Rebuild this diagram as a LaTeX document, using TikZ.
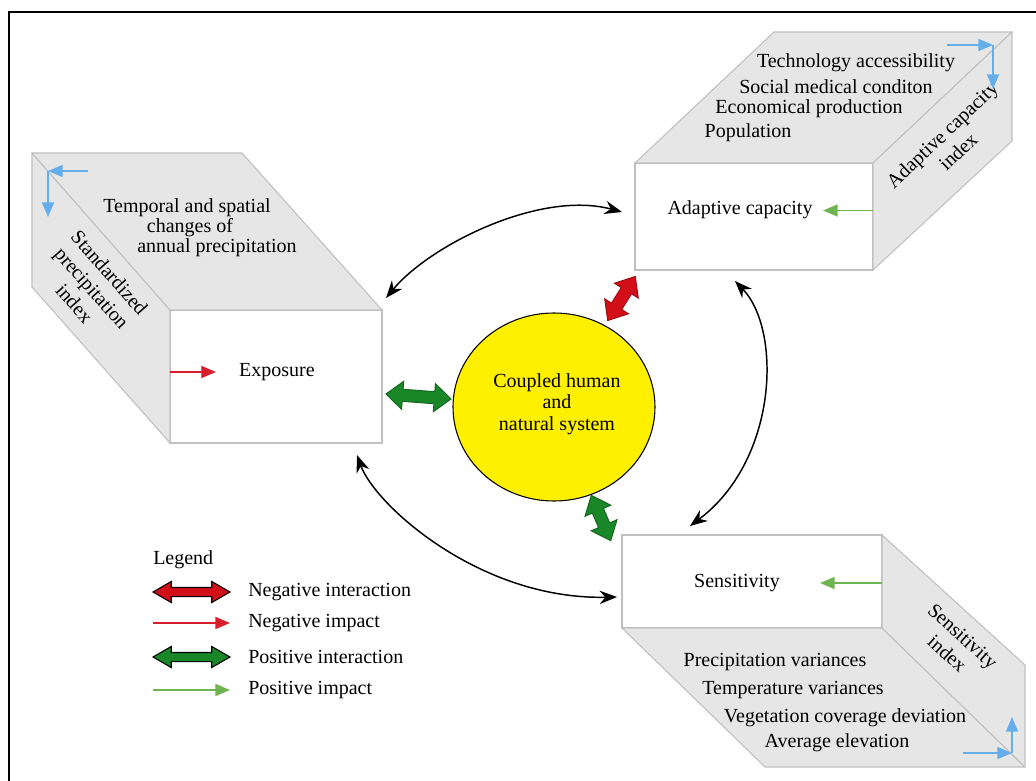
\documentclass[tikz,border=0pt]{standalone}
\usepackage{fontspec}
\setmainfont{Liberation Serif}
\usetikzlibrary{arrows.meta,shapes.arrows,shapes.geometric,calc}
\definecolor{facegray}{RGB}{230,230,230}
\definecolor{edgegray}{RGB}{192,192,192}
\definecolor{skyblue}{RGB}{100,175,235}
\definecolor{impgreen}{RGB}{110,180,80}
\definecolor{impred}{RGB}{215,30,45}
\definecolor{fatgreen}{RGB}{25,135,40}
\definecolor{fatred}{RGB}{210,15,25}
\definecolor{sysyellow}{RGB}{255,240,0}
\begin{document}
\begin{tikzpicture}[x=0.75pt,y=-0.75pt,
  font=\fontsize{15pt}{16pt}\selectfont,
  face/.style={fill=facegray, draw=edgegray, line width=0.8pt, line join=round},
  front/.style={draw=edgegray, fill=white, line width=0.8pt, inner sep=0pt, outer sep=0pt},
  lbl/.style={inner sep=0pt},
  rlbl/.style={inner sep=0pt, align=center, font=\fontsize{15pt}{17.5pt}\selectfont},
  link/.style={line width=1.1pt, {Stealth[length=13pt,width=10pt]}-{Stealth[length=13pt,width=10pt]}},
  idxarrow/.style={draw=skyblue, line width=1.3pt, -{Triangle[length=11pt,width=9pt]}},
  posimp/.style={draw=impgreen, line width=1.3pt, -{Triangle[length=11pt,width=9pt]}},
  negimp/.style={draw=impred, line width=1.3pt, -{Triangle[length=11pt,width=9pt]}},
  fatarr/.style={double arrow, inner xsep=0pt, inner ysep=4.2pt, outer sep=0pt, line width=0.7pt,
    double arrow tip angle=80, double arrow head extend=6pt, minimum width=0pt, line join=miter},
  legarr/.style={double arrow, inner xsep=0pt, inner ysep=3pt, outer sep=0pt, line width=0.8pt, draw=black,
    double arrow tip angle=60, minimum height=57.75pt, minimum width=0pt,
    double arrow head extend=4.5pt, line join=miter},
]
\useasboundingbox (0,0) rectangle (1036,781);
\fill[white] (0,0) rectangle (1036,781);
\draw[line width=1.6pt] (9,781) -- (9,12) -- (1036,12);

% ---------- Exposure box ----------
\node[front, minimum width=159pt, minimum height=99.75pt] (expo) at (276,376.5) {};
\draw[face] (expo.north west) -- ++(-138,-157) -- ++(0,134) -- (expo.south west) -- cycle;
\draw[face] (expo.north west) -- ++(-138,-157) -- ++(210,0) -- (expo.north east) -- cycle;
\node[lbl] (exl) at (277,372) {Exposure};
\node[lbl] (tq1) at (187,208) {Temporal and spatial};
\node[lbl] (tq2) at (190,228) {changes of};
\node[lbl] (tq3) at (217,248) {annual precipitation};
\node[rlbl, rotate=-48.7] (spi) at (92,288) {Standardized\\precipitation\\index};
\coordinate (bc1) at (48,171);
\draw[idxarrow] ($(bc1)+(40,0)$) -- (bc1);
\draw[idxarrow] (bc1) -- ++(0,46);
\draw[negimp] ($(expo.west)+(0,-4.5)$) -- ++(46,0);

% ---------- Adaptive capacity box ----------
\node[front, minimum width=178.5pt, minimum height=80.25pt] (adapt) at (754,216.5) {};
\draw[face] (adapt.north west) -- ++(139,-131) -- ++(238,0) -- (adapt.north east) -- cycle;
\draw[face] (adapt.north east) -- ++(139,-131) -- ++(0,109) -- (adapt.south east) -- cycle;
\node[lbl] (acl) at (740,210) {Adaptive capacity};
\node[lbl] (ta1) at (856,63) {Technology accessibility};
\node[lbl] (ta2) at (836,87) {Social medical conditon};
\node[lbl] (ta3) at (809,109) {Economical production};
\node[lbl] (ta4) at (748,133) {Population};
\node[rlbl, rotate=43.5] (aci) at (950,143) {Adaptive capacity\\index};
\coordinate (bc2) at (993,45);
\draw[idxarrow] ($(bc2)+(-46,0)$) -- (bc2);
\draw[idxarrow] (bc2) -- ++(0,44);
\draw[posimp] ($(adapt.east)+(0,-6)$) -- ++(-50,0);

% ---------- Sensitivity box ----------
\node[front, minimum width=195pt, minimum height=69.75pt] (sens) at (752,581.5) {};
\draw[face] (sens.south west) -- ++(143,139) -- ++(260,0) -- (sens.south east) -- cycle;
\draw[face] (sens.north east) -- ++(143,130) -- ++(0,102) -- (sens.south east) -- cycle;
\node[lbl] (sel) at (737,583) {Sensitivity};
\node[lbl] (ts1) at (775,662) {Precipitation variances};
\node[lbl] (ts2) at (793,690) {Temperature variances};
\node[lbl] (ts3) at (845,718) {Vegetation coverage deviation};
\node[lbl] (ts4) at (837,743) {Average elevation};
\node[rlbl, rotate=-42] (sei) at (955,645) {Sensitivity\\index};
\coordinate (bc3) at (1012,753);
\draw[idxarrow] ($(bc3)+(-49,0)$) -- (bc3);
\draw[idxarrow] (bc3) -- ++(0,-36);
\draw[posimp] ($(sens.east)+(0,1.5)$) -- ++(-62,0);

% ---------- Central system ----------
\node[ellipse, draw=black, fill=sysyellow, line width=0.8pt, inner sep=0pt,
      minimum width=151.5pt, minimum height=141pt] (chns) at (554,407) {};
\node[lbl, align=center] (chnsl) at (557,404) {Coupled human\\and\\natural system};

% ---------- Interaction arrows ----------
\node[fatarr, fill=fatgreen, draw=fatgreen!75!black, minimum height=49pt, rotate=-4.4] (gi1) at (418.5,396.5) {};
\node[fatarr, fill=fatred, draw=fatred!75!black, minimum height=39pt, rotate=58] (ri1) at (621.5,298.5) {};
\node[fatarr, fill=fatgreen, draw=fatgreen!75!black, minimum height=37pt, rotate=-66.8] (gi2) at (601,518) {};

% ---------- Feedback arcs ----------
\coordinate (e1) at (386,298);
\coordinate (a1) at (622,212);
\draw[link] (e1) .. controls (430,245) and (540,190) .. (a1);
\coordinate (a2) at (735,281);
\coordinate (s2) at (690,526);
\draw[link] (a2) .. controls (782,330) and (778,460) .. (s2);
\coordinate (e3) at (357,455);
\coordinate (s3) at (617,597);
\draw[link] (e3) .. controls (375,505) and (480,600) .. (s3);

% ---------- Legend ----------
\node[lbl, anchor=west] (leg) at (153,560) {Legend};
\node[legarr, fill=fatred] (l1) at (191.5,592) {};
\node[lbl, anchor=west] (l1t) at (248,592) {Negative interaction};
\coordinate (l2a) at (153,623);
\coordinate (l2b) at (230,623);
\draw[negimp] (l2a) -- (l2b);
\node[lbl, anchor=west] (l2t) at (248,623) {Negative impact};
\node[legarr, fill=fatgreen] (l3) at (191.5,657) {};
\node[lbl, anchor=west] (l3t) at (248,657) {Positive interaction};
\coordinate (l4a) at (153,690);
\coordinate (l4b) at (230,690);
\draw[posimp] (l4a) -- (l4b);
\node[lbl, anchor=west] (l4t) at (248,690) {Positive impact};
\end{tikzpicture}
\end{document}
